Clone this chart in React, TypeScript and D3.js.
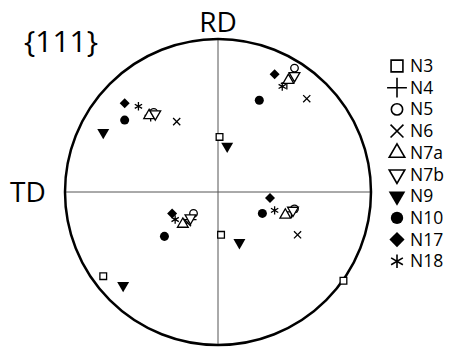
import React, { useRef, useEffect } from "react";
import * as d3 from "d3";

// series names (legend order)
const seriesNames = ["N3", "N4", "N5", "N6", "N7a", "N7b", "N9", "N10", "N17", "N18"];

// projected pole positions, in units of the circle radius (x to the right, y up toward RD)
const N3 = [[0.01, 0.36], [0.02, -0.28], [-0.75, -0.55], [0.82, -0.58]];
const N4 = [[-0.44, 0.5], [0.45, 0.71], [-0.18, -0.18], [0.48, -0.13]];
const N5 = [[-0.42, 0.52], [0.5, 0.81], [-0.16, -0.14], [0.5, -0.11]];
const N6 = [[-0.27, 0.46], [0.58, 0.61], [-0.2, -0.2], [0.52, -0.28]];
const N7a = [[-0.45, 0.5], [0.46, 0.73], [-0.23, -0.21], [0.44, -0.15]];
const N7b = [[-0.41, 0.51], [0.5, 0.76], [-0.18, -0.17], [0.49, -0.12]];
const N9 = [[-0.75, 0.39], [0.06, 0.3], [-0.62, -0.61], [0.14, -0.33]];
const N10 = [[-0.61, 0.47], [0.27, 0.6], [-0.35, -0.29], [0.29, -0.14]];
const N17 = [[-0.61, 0.58], [0.37, 0.77], [-0.3, -0.14], [0.34, -0.04]];
const N18 = [[-0.52, 0.56], [0.42, 0.69], [-0.28, -0.18], [0.37, -0.12]];

const seriesData = [N3, N4, N5, N6, N7a, N7b, N9, N10, N17, N18];

const App = () => {
  const svgRef = useRef(null);

  useEffect(() => {
    const svg = d3.select(svgRef.current);
    svg.selectAll("*").remove();

    const cx = 218;
    const cy = 192;
    const r = 153;
    const font = "'Open Sans', 'DejaVu Sans', sans-serif";

    const x = d3.scaleLinear().domain([-1, 1]).range([cx - r, cx + r]);
    const y = d3.scaleLinear().domain([-1, 1]).range([cy + r, cy - r]);

    // marker style for each series: symbol, rotation, filled?
    const styles = [
      { type: d3.symbolSquare, rot: 0, fill: false },
      { type: d3.symbolPlus, rot: 0, fill: false, line: true },
      { type: d3.symbolCircle, rot: 0, fill: false },
      { type: d3.symbolTimes, rot: 0, fill: false, line: true },
      { type: d3.symbolTriangle, rot: 0, fill: false },
      { type: d3.symbolTriangle, rot: 180, fill: false },
      { type: d3.symbolTriangle, rot: 180, fill: true },
      { type: d3.symbolCircle, rot: 0, fill: true },
      { type: d3.symbolSquare, rot: 45, fill: true },
      { type: d3.symbolAsterisk, rot: 0, fill: false, line: true },
    ];
    const plotSizes = [45, 50, 45, 35, 50, 50, 62, 64, 50, 50];
    const legendSizes = [140, 130, 100, 110, 105, 105, 120, 120, 115, 130];

    const drawMark = (g, i, px, py, size, sw) => {
      const s = styles[i];
      g.append("path")
        .attr("d", d3.symbol().type(s.type).size(size)())
        .attr("transform", `translate(${px},${py}) rotate(${s.rot})`)
        .attr("fill", s.fill ? "black" : "white")
        .attr("fill-opacity", s.fill ? 1 : s.line ? 0 : 1)
        .attr("stroke", "black")
        .attr("stroke-width", s.fill ? 0 : sw);
    };

    // circle and axes
    svg
      .append("line")
      .attr("x1", x(-1))
      .attr("x2", x(1))
      .attr("y1", y(0))
      .attr("y2", y(0))
      .attr("stroke", "#555")
      .attr("stroke-width", 1);
    svg
      .append("line")
      .attr("x1", x(0))
      .attr("x2", x(0))
      .attr("y1", y(1))
      .attr("y2", y(-1))
      .attr("stroke", "#555")
      .attr("stroke-width", 1);
    svg
      .append("circle")
      .attr("cx", x(0))
      .attr("cy", y(0))
      .attr("r", r)
      .attr("fill", "none")
      .attr("stroke", "black")
      .attr("stroke-width", 2.5);

    // points
    const pts = svg.append("g");
    seriesData.forEach((arr, i) => {
      arr.forEach((d) => drawMark(pts, i, x(d[0]), y(d[1]), plotSizes[i], 1.3));
    });

    // labels
    svg
      .append("text")
      .attr("x", 24)
      .attr("y", 52)
      .attr("font-family", font)
      .attr("font-size", 30)
      .text("{111}");
    svg
      .append("text")
      .attr("x", x(0))
      .attr("y", 32)
      .attr("text-anchor", "middle")
      .attr("font-family", font)
      .attr("font-size", 28)
      .text("RD");
    svg
      .append("text")
      .attr("x", 10)
      .attr("y", y(0) + 10)
      .attr("font-family", font)
      .attr("font-size", 28)
      .text("TD");

    // legend
    const legend = svg.append("g").attr("transform", "translate(397, 66)");
    seriesNames.forEach((name, i) => {
      const ly = i * 21.7;
      drawMark(legend, i, 0, ly, legendSizes[i], 1.6);
      legend
        .append("text")
        .attr("x", 13)
        .attr("y", ly + 6)
        .attr("font-family", font)
        .attr("font-size", 17.5)
        .text(name);
    });
  }, []);

  return (
    <svg
      ref={svgRef}
      width={458}
      height={354}
      style={{ position: "absolute", left: 0, top: 0, background: "white" }}
    ></svg>
  );
};

export default App;
